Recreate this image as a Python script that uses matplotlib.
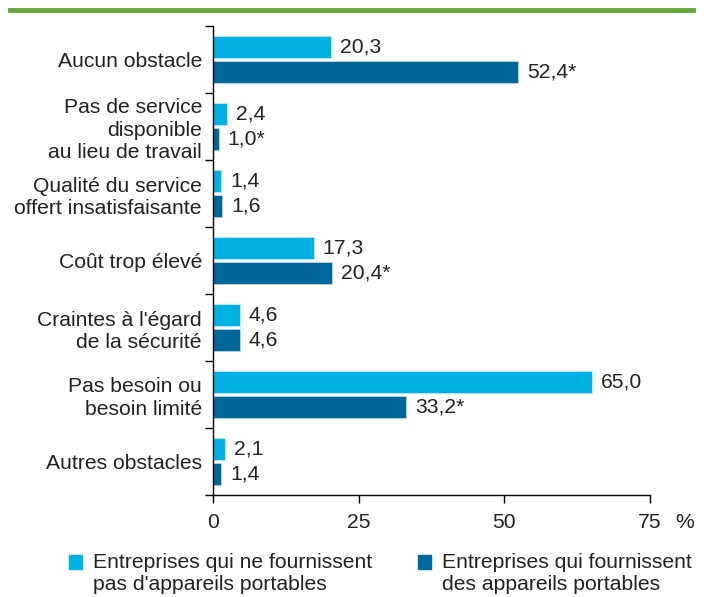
import matplotlib.pyplot as plt
import matplotlib.patches as mpatches
import numpy as np

plt.rcParams['font.family'] = ['Liberation Sans', 'DejaVu Sans']

# Data
categories = ["Aucun obstacle",
              "Pas de service\ndisponible\nau lieu de travail",
              "Qualité du service\noffert insatisfaisante",
              "Coût trop élevé",
              "Craintes à l'égard\nde la sécurité",
              "Pas besoin ou\nbesoin limité",
              "Autres obstacles"]
no_devices = [20.3, 2.4, 1.4, 17.3, 4.6, 65.0, 2.1]
with_devices = [52.4, 1.0, 1.6, 20.4, 4.6, 33.2, 1.4]
with_star = [True, True, False, True, False, True, False]
series_names = ["Entreprises qui ne fournissent\npas d'appareils portables",
                "Entreprises qui fournissent\ndes appareils portables"]
xticks = [0, 25, 50, 75]

light = '#00b2e3'
dark = '#00679a'
txt = '#222222'
fs = 15.2

fig = plt.figure(figsize=(7.1, 5.97), dpi=100)
ax = fig.add_axes([213 / 710, 1 - 495 / 597, (650 - 213) / 710, (495 - 26) / 597])

# green rule at top
fig.add_artist(plt.Line2D([10 / 710, 693 / 710], [1 - 10 / 597, 1 - 10 / 597],
                          color='#65a83b', lw=3.5, transform=fig.transFigure))

pos = np.arange(len(categories))
h = 0.33
ax.barh(pos + 0.32, no_devices, height=h, color=light, edgecolor='#bfe9f7', linewidth=0.6)
ax.barh(pos + 0.68, with_devices, height=h, color=dark, edgecolor='#bcd6e3', linewidth=0.6)

def fmt(v, star=False):
    s = f"{v:.1f}".replace('.', ',')
    return s + ('*' if star else '')

for i in range(len(categories)):
    ax.text(no_devices[i] + 1.5, pos[i] + 0.32, fmt(no_devices[i]), va='center', ha='left',
            fontsize=fs, color=txt)
    ax.text(with_devices[i] + 1.5, pos[i] + 0.68, fmt(with_devices[i], with_star[i]),
            va='center', ha='left', fontsize=fs, color=txt)

ax.set_xlim(0, 75)
ax.set_ylim(len(categories), 0)

# y ticks at group borders, labels at centers
ax.set_yticks(np.arange(len(categories) + 1))
ax.set_yticklabels([])
ax.set_yticks(pos + 0.5, minor=True)
ax.set_yticklabels(categories, minor=True, fontsize=fs, color=txt, linespacing=1.22, ha='right')
ax.tick_params(axis='y', which='major', length=6, width=1, direction='out')
ax.tick_params(axis='y', which='minor', length=0, pad=8)

ax.set_xticks(xticks)
ax.set_xticklabels([str(t) for t in xticks], fontsize=fs, color=txt)
ax.tick_params(axis='x', length=6, width=1, direction='out', pad=7)
ax.text(1.08, -0.039, "%", transform=ax.transAxes, fontsize=fs, color=txt, ha='center', va='top')

for s in ['top', 'right']:
    ax.spines[s].set_visible(False)
ax.spines['left'].set_linewidth(1)
ax.spines['bottom'].set_linewidth(1)

# legend drawn by hand
for x0, col, name in [(69, light, series_names[0]), (418, dark, series_names[1])]:
    fig.add_artist(mpatches.Rectangle((x0 / 710, 1 - 569 / 597), 13 / 710, 14 / 597,
                                      color=col, transform=fig.transFigure))
    fig.text((x0 + 24) / 710, 1 - 553 / 597, name, fontsize=fs, color=txt,
             va='top', ha='left', linespacing=1.2)

fig.savefig('out.png', dpi=100)
